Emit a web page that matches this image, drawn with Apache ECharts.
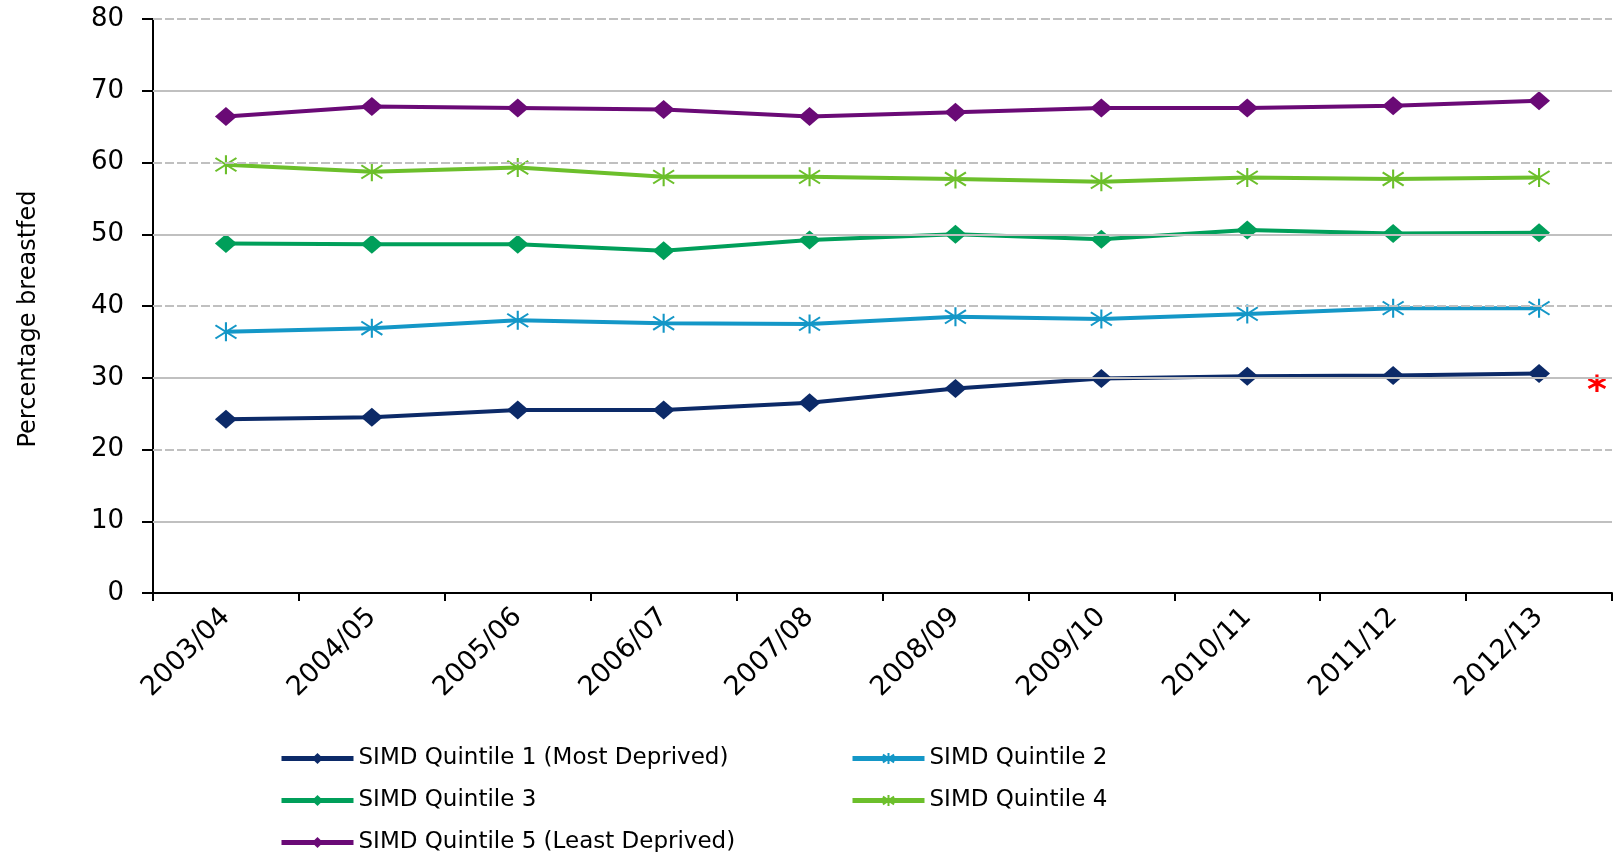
<!DOCTYPE html>
<html>
<head>
<meta charset="utf-8">
<script src="https://cdn.jsdelivr.net/npm/echarts@6/dist/echarts.min.js"></script>
<style>
  html, body { margin: 0; padding: 0; background: #ffffff; }
  #chart { width: 1617px; height: 852px; }
</style>
</head>
<body>
<div id="chart"></div>
<script>
// Financial years on the category axis
const categories = ['2003/04', '2004/05', '2005/06', '2006/07', '2007/08',
                    '2008/09', '2009/10', '2010/11', '2011/12', '2012/13'];

// Percentage breastfed by SIMD quintile
const seriesNames = [
  'SIMD Quintile 1 (Most Deprived)',
  'SIMD Quintile 2',
  'SIMD Quintile 3',
  'SIMD Quintile 4',
  'SIMD Quintile 5 (Least Deprived)'
];
const quintile1 = [24.2, 24.5, 25.5, 25.5, 26.5, 28.5, 29.9, 30.2, 30.3, 30.6];
const quintile2 = [36.4, 36.9, 38.0, 37.6, 37.5, 38.5, 38.2, 38.9, 39.7, 39.7];
const quintile3 = [48.7, 48.6, 48.6, 47.7, 49.2, 50.0, 49.3, 50.6, 50.1, 50.2];
const quintile4 = [59.7, 58.7, 59.3, 58.0, 58.0, 57.7, 57.3, 57.9, 57.7, 57.9];
const quintile5 = [66.4, 67.8, 67.6, 67.4, 66.4, 67.0, 67.6, 67.6, 67.9, 68.6];

// Horizontal gridlines: alternate solid and dashed
const solidGridValues = [10, 30, 50, 70];
const dashedGridValues = [20, 40, 60, 80];

const colors = ['#0c2a68', '#1497c7', '#009f5a', '#6cbf2b', '#6a0a76'];
const FONT = 'DejaVu Sans';

const asterisk = 'path://M10,0 L10,20 M0,3 L20,17 M0,17 L20,3';

function lineSeries(name, data, color, isStar) {
  return {
    name: name,
    type: 'line',
    data: data,
    z: 3,
    symbol: isStar ? asterisk : 'diamond',
    symbolSize: isStar ? [21, 19] : [22, 19],
    showAllSymbol: true,
    lineStyle: { color: color, width: 4 },
    itemStyle: isStar
      ? { color: color, borderColor: color, borderWidth: 2 }
      : { color: color, borderWidth: 0 },
    emphasis: { disabled: true },
    animation: false
  };
}

const gridLines = [];
solidGridValues.forEach(v => gridLines.push({
  yAxis: v, lineStyle: { type: 'solid', color: '#c0c0c0', width: 2 }
}));
dashedGridValues.forEach(v => gridLines.push({
  yAxis: v, lineStyle: { type: [9, 3], color: '#c0c0c0', width: 2 }
}));

// Legend laid out as a two-column grid: one legend block per entry
const legendSlots = [
  { left: 279, top: 747 },  // Quintile 1
  { left: 850, top: 747 },  // Quintile 2
  { left: 279, top: 789 },  // Quintile 3
  { left: 850, top: 789 },  // Quintile 4
  { left: 279, top: 831 }   // Quintile 5
];
const legends = seriesNames.map((name, i) => ({
  left: legendSlots[i].left,
  top: legendSlots[i].top,
  padding: 0,
  itemWidth: 72, itemHeight: 14,
  lineStyle: { width: 5 },
  textStyle: { fontFamily: FONT, fontSize: 23, lineHeight: 20, color: '#000' },
  selectedMode: false,
  data: [name]
}));

const chart = echarts.init(document.getElementById('chart'));

chart.setOption({
  backgroundColor: '#ffffff',
  animation: false,
  grid: { left: 153, right: 5, top: 19, bottom: 259 },
  legend: legends,
  xAxis: {
    type: 'category',
    data: categories,
    boundaryGap: true,
    axisLine: { lineStyle: { color: '#000', width: 2 } },
    axisTick: { show: true, length: 8, lineStyle: { color: '#000', width: 2 } },
    axisLabel: {
      rotate: 45, margin: 20, interval: 0,
      fontFamily: FONT, fontSize: 27, color: '#000'
    },
    splitLine: { show: false }
  },
  yAxis: {
    type: 'value',
    min: 0, max: 80, interval: 10,
    name: 'Percentage breastfed',
    nameLocation: 'middle',
    nameGap: 112,
    nameTextStyle: { fontFamily: FONT, fontSize: 24, color: '#000', padding: [0, 26, 0, 0] },
    axisLine: { show: true, lineStyle: { color: '#000', width: 2 } },
    axisTick: { show: true, length: 11, lineStyle: { color: '#000', width: 2 } },
    axisLabel: { margin: 29, fontFamily: FONT, fontSize: 26, color: '#000' },
    splitLine: { show: false }
  },
  series: [
    {
      name: 'gridlines',
      type: 'line',
      data: [],
      z: 1,
      silent: true,
      markLine: {
        silent: true,
        symbol: ['none', 'none'],
        label: { show: false },
        animation: false,
        data: gridLines
      }
    },
    lineSeries(seriesNames[0], quintile1, colors[0], false),
    lineSeries(seriesNames[1], quintile2, colors[1], true),
    lineSeries(seriesNames[2], quintile3, colors[2], false),
    lineSeries(seriesNames[3], quintile4, colors[3], true),
    lineSeries(seriesNames[4], quintile5, colors[4], false)
  ],
  graphic: [
    {
      type: 'text',
      left: 1587, top: 373,
      style: { text: '*', fill: '#ff0000', font: 'bold 38px "DejaVu Sans"' }
    }
  ]
});
</script>
</body>
</html>
